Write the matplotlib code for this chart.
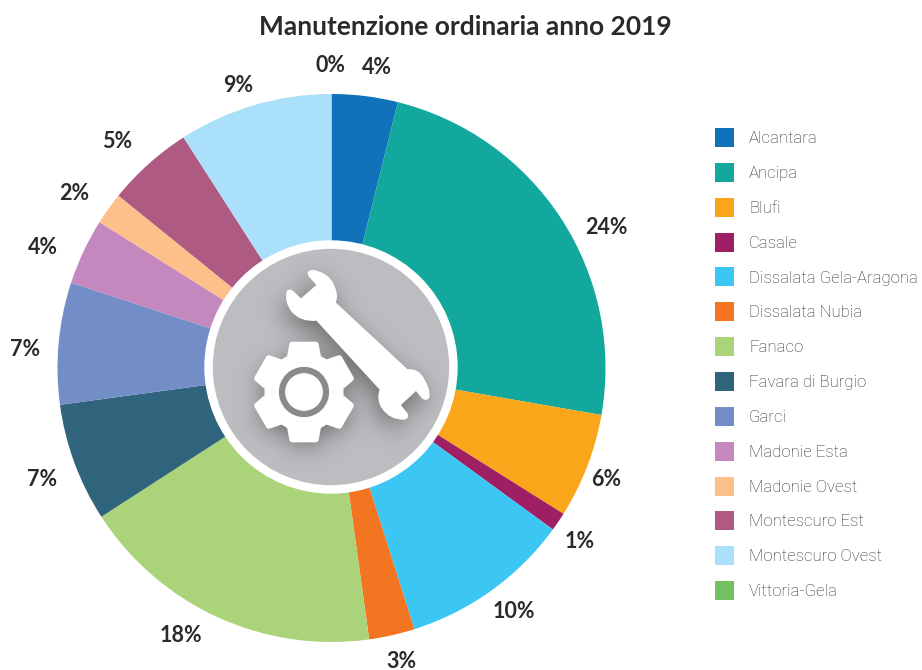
import numpy as np
import matplotlib
matplotlib.use("Agg")
import matplotlib.pyplot as plt
from matplotlib.path import Path
from matplotlib.patches import Circle, PathPatch

# Data
categories = ["Alcantara", "Ancipa", "Blufi", "Casale", "Dissalata Gela-Aragona",
              "Dissalata Nubia", "Fanaco", "Favara di Burgio", "Garci", "Madonie Esta",
              "Madonie Ovest", "Montescuro Est", "Montescuro Ovest", "Vittoria-Gela"]
values = [3.9, 23.9, 6.2, 1.1, 10.1, 2.7, 18.1, 7.0, 7.2, 3.9, 1.9, 5.1, 9.1, 0.0]
colors = ["#0f72bb", "#12a89d", "#faa61a", "#9e1f63", "#3bc6f4", "#f47521", "#abd37a",
          "#30647c", "#738dc7", "#c588be", "#fdc08a", "#ae5a83", "#abe0fa", "#74c161"]

# label centres in pixels, same order as the categories
label_x = [377, 606, 606, 580, 514, 401, 181, 42, 25, 43, 74, 117, 238, 330]
label_y = [68, 227, 480, 541, 612, 661, 636, 480, 350, 247, 193, 141, 85, 66]

title_font = "Lato"
dark = "#2b2a2b"

fig = plt.figure(figsize=(9.22, 6.70), dpi=100)
ax = fig.add_axes([0, 0, 1, 1])

# y axis gets inverted below, so counterclock here reads clockwise on screen
wedges, _ = ax.pie(values, colors=colors, startangle=-90, counterclock=True,
                   center=(331.5, 368), radius=274)

# icon in the middle
ax.add_patch(Circle((331, 367), 126, color="white", zorder=3))
ax.add_patch(Circle((331, 367), 117.5, color="#bbbdc0", zorder=4))

M, L, C = Path.MOVETO, Path.LINETO, Path.CURVE3


def zoomed(points):
    # points were traced on a 3x crop starting at (200, 240)
    return [(200 + x / 3, 240 + y / 3) for x, y in points]


# outline of the spanner: (code, points) steps
wrench_steps = [
    (M, [(405, 188)]), (L, [(622, 390)]),
    (C, [(655, 385), (672, 420)]), (C, [(690, 450), (686, 472)]), (C, [(680, 482), (668, 474)]),
    (L, [(648, 450)]), (L, [(600, 495)]), (L, [(620, 520)]),
    (C, [(628, 535), (610, 537)]), (C, [(570, 537), (548, 505)]), (C, [(530, 480), (541, 448)]),
    (L, [(350, 240)]),
    (C, [(300, 245), (275, 212)]), (C, [(255, 185), (262, 155)]), (C, [(270, 145), (282, 158)]),
    (L, [(303, 178)]), (L, [(352, 135)]), (L, [(328, 108)]),
    (C, [(318, 92), (340, 92)]), (C, [(385, 100), (400, 135)]), (C, [(415, 165), (405, 188)]),
]
wrench_pts = []
wrench_codes = []
for code, pts in wrench_steps:
    wrench_pts += pts
    wrench_codes += [code] * len(pts)
wrench = Path(zoomed(wrench_pts), wrench_codes)


def gear_path(cx, cy):
    verts = []
    for i in range(6):
        a = np.radians(-90 + i * 60)
        for r, da in [(37, -23), (49, -14), (49, 14), (37, 23)]:
            t = a + np.radians(da)
            verts.append((cx + r * np.cos(t), cy + r * np.sin(t)))
    verts.append(verts[0])
    return Path(verts, [M] + [L] * (len(verts) - 2) + [Path.CLOSEPOLY])


gear = gear_path(304, 392)

# soft shadow: blurred mask of both shapes, shifted a bit down
gx, gy = np.meshgrid(np.arange(205, 458), np.arange(241, 494))
grid = np.column_stack([gx.ravel(), gy.ravel()])
mask = (wrench.contains_points(grid - [-4, 8]) | gear.contains_points(grid - [0, 6])).reshape(gx.shape)
kernel = np.exp(-np.arange(-36, 37) ** 2 / (2 * 12.0 ** 2))
kernel /= kernel.sum()
blur = mask.astype(float)
for axis in (0, 1):
    blur = np.apply_along_axis(lambda r: np.convolve(r, kernel, mode="same"), axis, blur)
shadow = np.zeros(gx.shape + (4,))
shadow[..., :3] = 0.2
shadow[..., 3] = blur * 0.6
im = ax.imshow(shadow, extent=(205, 458, 494, 241), zorder=5, interpolation="bilinear")
im.set_clip_path(Circle((331, 367), 117.5, transform=ax.transData))

ax.add_patch(PathPatch(wrench, fc="white", ec="white", lw=1, joinstyle="round", zorder=6))
ax.add_patch(PathPatch(gear, fc="white", ec="white", lw=4, joinstyle="round", zorder=6))
ax.add_patch(Circle((304, 392), 22, fc="white", ec="#8a8b8d", lw=4.5, zorder=7))

ax.set_xlim(0, 922)
ax.set_ylim(670, 0)
ax.set_aspect("equal")
ax.axis("off")

ax.text(465, 27, "Manutenzione ordinaria anno 2019", ha="center", va="center",
        fontsize=19, fontweight="bold", family=title_font, color=dark)

for v, x, y in zip(values, label_x, label_y):
    ax.text(x, y, f"{round(v)}%", ha="center", va="center", fontsize=15.5,
            fontweight="bold", family=title_font, color=dark)

fs = 12.1
px = fs * 100 / 72
leg = ax.legend(wedges, categories, loc="upper left", bbox_to_anchor=(715 / 922, 1 - 128 / 670),
                frameon=False, borderpad=0, borderaxespad=0, handlelength=19 / px, handleheight=22.9 / px,
                handletextpad=15 / px, labelspacing=15.85 / px,
                prop={"family": "Roboto", "weight": "light", "size": fs})
for t in leg.get_texts():
    t.set_color("#2b2b2d")

fig.savefig("out.png", dpi=100)
